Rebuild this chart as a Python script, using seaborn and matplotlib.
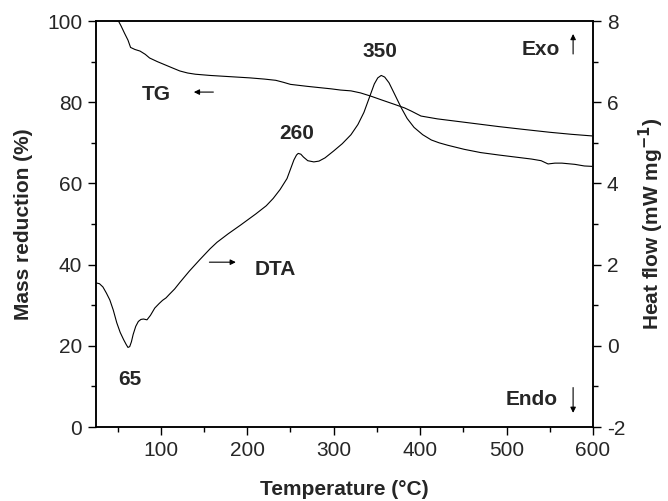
import numpy as np
import pandas as pd
import seaborn as sns
import matplotlib.pyplot as plt
from matplotlib.ticker import MultipleLocator

# TG curve (mass %, left axis)
tg_temp = [25, 51, 54, 58, 62, 65, 70, 76, 82, 87, 96, 105, 114, 122, 131, 140, 157,
           180, 203, 220, 233, 242, 250, 270, 297, 308, 320, 331, 343, 355, 370, 382,
           390, 401, 420, 450, 491, 520, 550, 575, 599]
tg_mass = [100.5, 100, 98.8, 97.0, 95.3, 93.5, 93.0, 92.6, 91.8, 90.9, 90.0, 89.2,
           88.4, 87.7, 87.2, 86.9, 86.6, 86.3, 86.0, 85.7, 85.4, 84.9, 84.4, 83.9,
           83.3, 83.0, 82.8, 82.3, 81.5, 80.6, 79.5, 78.6, 77.8, 76.6, 75.9, 75.1,
           74.0, 73.3, 72.6, 72.1, 71.7]

# DTA curve (heat flow, right axis)
dta_temp = [25, 29, 33, 37, 41, 45, 49, 53, 57, 60, 62, 64, 66, 68, 71, 74, 77, 80,
            84, 88, 93, 98, 102, 106, 110, 116, 122, 133, 145, 157, 165, 178, 192, 210,
            222, 230, 238, 246, 250, 254, 257, 259, 262, 265, 270, 277, 283, 290, 300,
            310, 320, 328, 335, 341, 347, 351, 355, 359, 364, 370, 378, 385, 393, 403,
            413, 422, 432, 451, 470, 491, 510, 529, 540, 548, 556, 564, 579, 590, 599]
dta_heat = [1.55, 1.53, 1.45, 1.30, 1.13, 0.88, 0.57, 0.33, 0.15, 0.03, -0.04, -0.02,
            0.10, 0.28, 0.48, 0.60, 0.65, 0.66, 0.64, 0.75, 0.93, 1.04, 1.12, 1.18,
            1.27, 1.40, 1.56, 1.84, 2.12, 2.39, 2.55, 2.76, 2.97, 3.25, 3.45, 3.63,
            3.85, 4.12, 4.35, 4.58, 4.70, 4.74, 4.72, 4.65, 4.56, 4.53, 4.55, 4.63,
            4.80, 4.98, 5.20, 5.45, 5.75, 6.10, 6.45, 6.60, 6.66, 6.62, 6.48, 6.22,
            5.87, 5.60, 5.38, 5.20, 5.07, 5.00, 4.94, 4.84, 4.76, 4.70, 4.65, 4.60,
            4.56, 4.48, 4.50, 4.50, 4.47, 4.43, 4.42]

tg = pd.DataFrame({'temp': tg_temp, 'mass': tg_mass})
dta = pd.DataFrame({'temp': dta_temp, 'heat': dta_heat})

sns.set_style('ticks')
plt.rcParams['font.family'] = ['Liberation Sans', 'DejaVu Sans']
plt.rcParams['axes.unicode_minus'] = False

fig = plt.figure(figsize=(6.68, 5.01), dpi=100)
ax = fig.add_axes([0.1437, 0.1477, 0.744, 0.8103])
ax2 = ax.twinx()

sns.lineplot(data=tg, x='temp', y='mass', ax=ax, color='black', lw=0.8)
sns.lineplot(data=dta, x='temp', y='heat', ax=ax2, color='black', lw=0.8)

ax.set_xlim(25, 600)
ax.set_ylim(0, 100)
ax2.set_ylim(-2, 8)
ax.xaxis.set_major_locator(MultipleLocator(100))
ax.xaxis.set_minor_locator(MultipleLocator(50))
ax.yaxis.set_major_locator(MultipleLocator(20))
ax.yaxis.set_minor_locator(MultipleLocator(10))
ax2.yaxis.set_major_locator(MultipleLocator(2))
ax2.yaxis.set_minor_locator(MultipleLocator(1))

for a in (ax, ax2):
    a.tick_params(which='major', length=6, width=1, labelsize=15, color='black', pad=4)
    a.tick_params(which='minor', length=3.5, width=1, color='black')
    for s in a.spines.values():
        s.set_linewidth(1.1)
        s.set_color('black')

ax.set_xlabel('Temperature (°C)', fontsize=15, fontweight='bold', labelpad=14.5)
ax.set_ylabel('Mass reduction (%)', fontsize=15, fontweight='bold', labelpad=10)
ax2.set_ylabel('Heat flow (mW mg$^{\\mathbf{-1}}$)', fontsize=15, fontweight='bold', labelpad=8)

kw = dict(fontsize=15, fontweight='bold', ha='center', va='center')
ax.text(95, 81.8, 'TG', **kw)
ax.annotate('', xy=(135, 82.5), xytext=(164, 82.5),
            arrowprops=dict(arrowstyle='-|>', color='black', lw=0.8, mutation_scale=8))
ax.text(233, 38.7, 'DTA', **kw)
ax.annotate('', xy=(190, 40.6), xytext=(153, 40.6),
            arrowprops=dict(arrowstyle='-|>', color='black', lw=0.8, mutation_scale=8))
ax.text(257, 72.4, '260', **kw)
ax.text(353, 92.4, '350', **kw)
ax.text(64, 11.6, '65', **kw)
ax.text(540, 92.9, 'Exo', **kw)
ax.annotate('', xy=(577, 97.5), xytext=(577, 91.2),
            arrowprops=dict(arrowstyle='-|>', color='black', lw=0.8, mutation_scale=8))
ax.text(529, 6.7, 'Endo', **kw)
ax.annotate('', xy=(577, 2.8), xytext=(577, 10.4),
            arrowprops=dict(arrowstyle='-|>', color='black', lw=0.8, mutation_scale=8))

fig.savefig('out.png', dpi=100)
